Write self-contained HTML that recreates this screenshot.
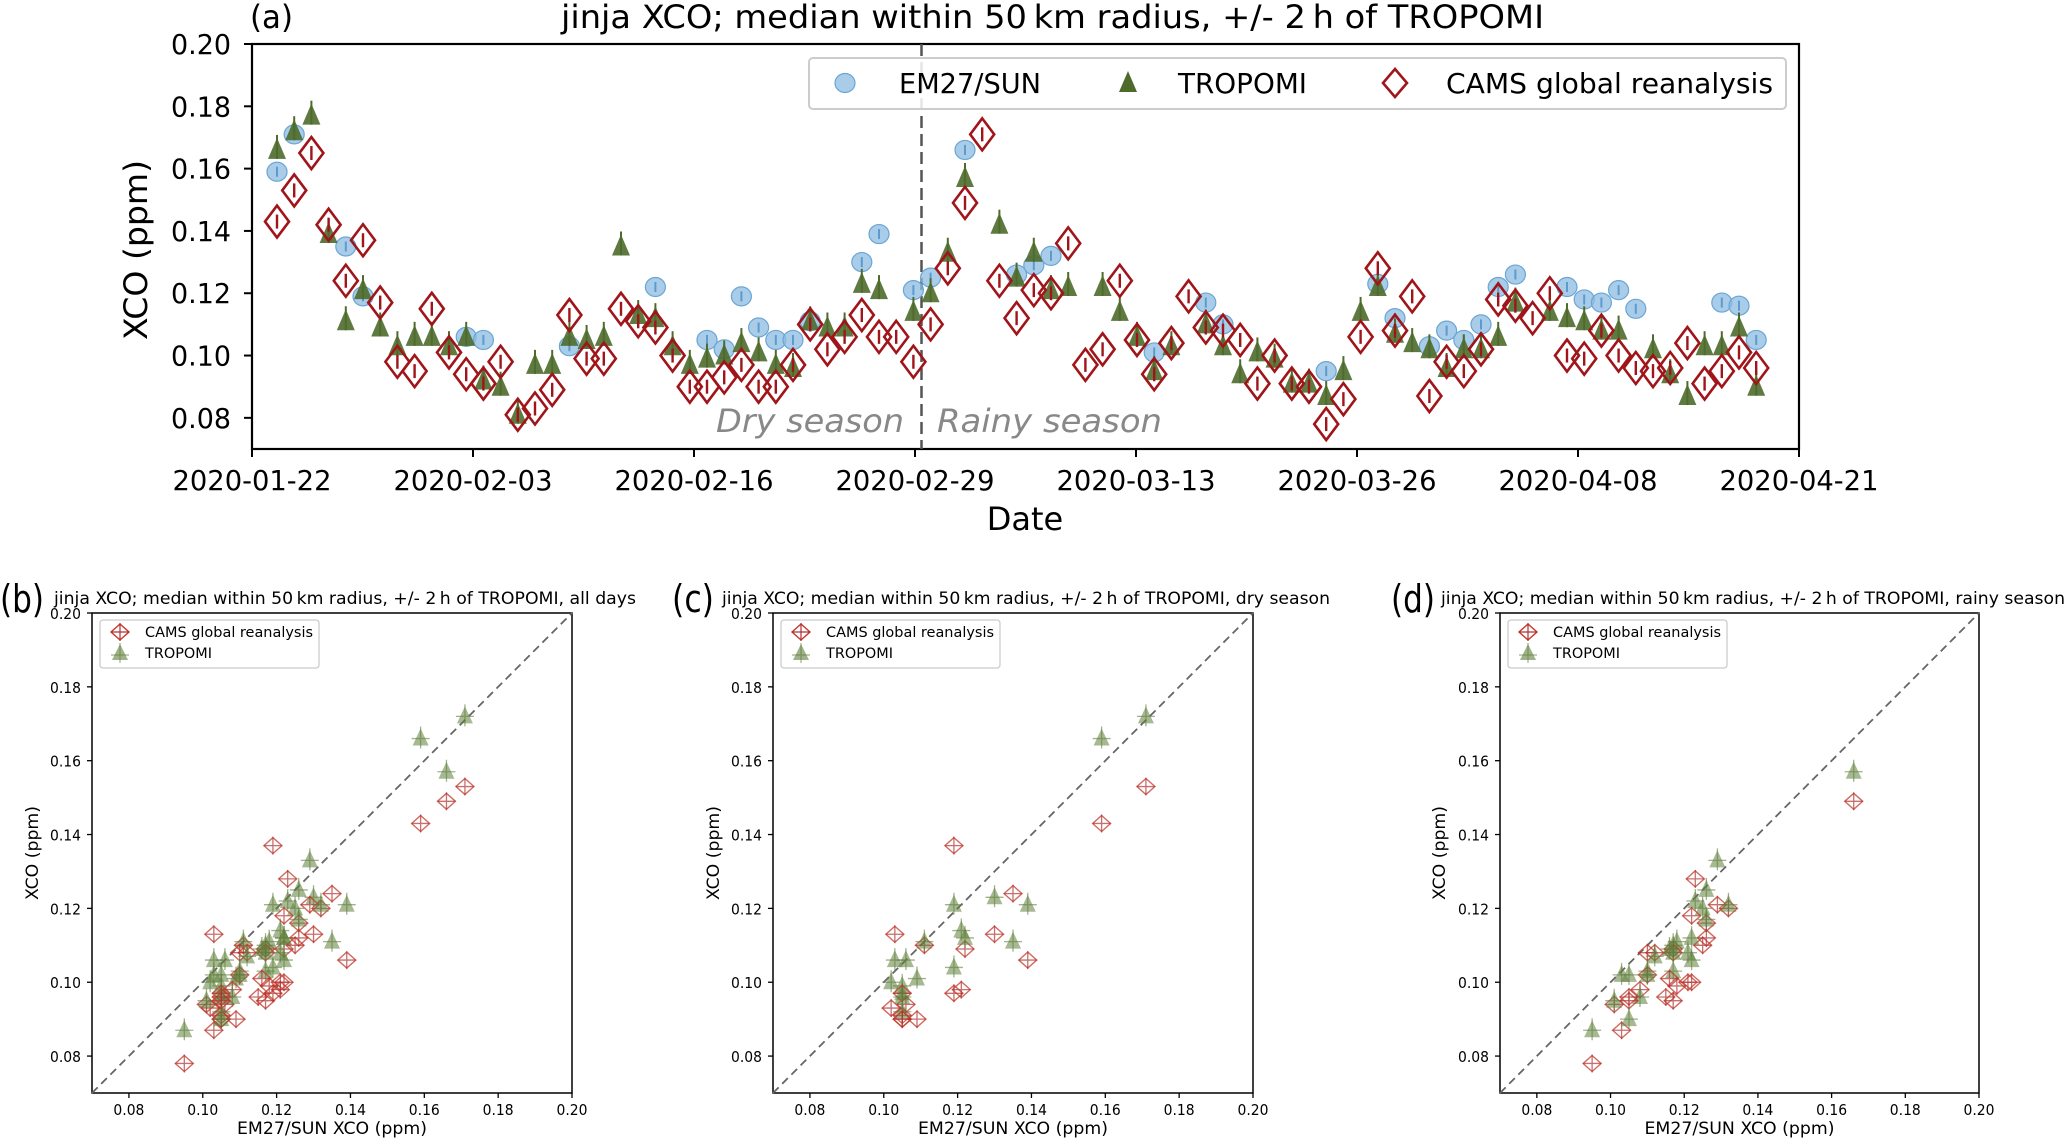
<!DOCTYPE html>
<html><head><meta charset="utf-8"><style>
html,body{margin:0;padding:0;background:#fff;}
svg{display:block;font-family:"DejaVu Sans","Liberation Sans",sans-serif;}
</style></head>
<body>
<svg id="fig" width="2067" height="1139" viewBox="0 0 2067 1139" xmlns="http://www.w3.org/2000/svg"></svg>
<script>
// ---- data (index = observation day, from 2020-01-23) ----
const emData = [0.159,0.171,null,null,0.135,0.119,null,null,null,null,null,0.106,0.105,null,null,null,null,0.103,null,null,null,null,0.122,null,null,0.105,0.102,0.119,0.109,0.105,0.105,0.111,null,null,0.130,0.139,null,0.121,0.125,null,0.166,null,null,0.126,0.129,0.132,null,null,null,null,null,0.101,null,null,0.117,0.110,null,null,null,null,null,0.095,null,null,0.123,0.112,null,0.103,0.108,0.105,0.110,0.122,0.126,null,null,0.122,0.118,0.117,0.121,0.115,null,null,null,null,0.117,0.116,0.105];
const tropomiData = [0.166,0.172,0.177,0.139,0.111,0.121,0.109,0.103,0.106,0.106,0.103,0.106,0.092,0.090,0.081,0.097,0.097,0.106,0.105,0.106,0.135,0.113,0.112,0.103,0.097,0.099,0.100,0.104,0.101,0.097,0.096,0.111,0.109,0.109,0.123,0.121,null,0.114,0.120,0.133,0.157,null,0.142,0.125,0.133,0.121,0.122,null,0.122,0.114,0.106,0.095,0.103,null,0.110,0.103,0.094,0.101,0.099,0.091,0.091,0.087,0.095,0.114,0.122,0.107,0.104,0.102,0.096,0.102,0.102,0.106,0.117,null,0.114,0.112,0.111,0.108,0.108,null,0.102,0.094,0.087,0.103,0.103,0.109,0.090];
const camsData = [0.143,0.153,0.165,0.142,0.124,0.137,0.117,0.098,0.095,0.115,0.101,0.094,0.091,0.098,0.081,0.083,0.089,0.113,0.099,0.099,0.115,0.111,0.109,0.100,0.090,0.090,0.093,0.097,0.090,0.090,0.097,0.110,0.102,0.106,0.113,0.106,0.106,0.098,0.110,0.128,0.149,0.171,0.124,0.112,0.121,0.120,0.136,0.097,0.102,0.124,0.105,0.094,0.104,0.119,0.109,0.108,0.105,0.091,0.100,0.091,0.090,0.078,0.086,0.106,0.128,0.108,0.119,0.087,0.098,0.095,0.102,0.118,0.116,0.112,0.120,0.100,0.099,0.108,0.100,0.096,0.095,0.096,0.104,0.091,0.095,0.101,0.096];
const dryLastIndex = 37;
const dateTickLabels = ["2020-01-22","2020-02-03","2020-02-16","2020-02-29","2020-03-13","2020-03-26","2020-04-08","2020-04-21"];
const dateTickDays = [0,13,26,39,52,65,78,91];
const yTicks = [0.08,0.10,0.12,0.14,0.16,0.18,0.20];
const scatterTicks = [0.08,0.10,0.12,0.14,0.16,0.18,0.20];

const NS="http://www.w3.org/2000/svg";
const svg=document.getElementById('fig');
function mk(tag,attrs,parent){const e=document.createElementNS(NS,tag);for(const k in attrs)e.setAttribute(k,attrs[k]);(parent||svg).appendChild(e);return e;}
function txt(s,attrs,parent){const e=mk('text',attrs,parent);e.textContent=s;return e;}

// ---- main time series panel ----
const A={L:252,R:1799,T:44,B:449,vmin:0.07,vmax:0.20};
const xDay=d=>A.L+d*17.0;
const xIdx=i=>277+i*17.2;
const yA=v=>A.B-(v-A.vmin)/(A.vmax-A.vmin)*(A.B-A.T);
const colEM='#8cbbe0', colEMs='#6aa6d6', colTR='#4e6b2b', colCA='#a0151a';

const pa=mk('g',{});


const fr=mk('rect',{x:A.L,y:A.T,width:A.R-A.L,height:A.B-A.T,fill:'none',stroke:'#000','stroke-width':2.2},pa);


yTicks.forEach(v=>{
  const y=yA(v);
  mk('line',{x1:A.L-8,x2:A.L,y1:y,y2:y,stroke:'#000','stroke-width':2},pa);
  const t=txt(v.toFixed(2),{x:231,y:y+10,'text-anchor':'end','font-size':28,textLength:60,lengthAdjust:'spacingAndGlyphs'},pa);
  
  
});
dateTickDays.forEach((d,k)=>{
  const x=xDay(d);
  mk('line',{x1:x,x2:x,y1:A.B,y2:A.B+8,stroke:'#000','stroke-width':2},pa);
  const t=txt(dateTickLabels[k],{x:x,y:490,'text-anchor':'middle','font-size':28,textLength:159,lengthAdjust:'spacingAndGlyphs'},pa);
  
  
});
const yl=txt('XCO (ppm)',{x:0,y:0,transform:'translate(147,250) rotate(-90)','text-anchor':'middle','font-size':32,textLength:180,lengthAdjust:'spacingAndGlyphs'},pa);


const xl=txt('Date',{x:1025,y:530,'text-anchor':'middle','font-size':32},pa);


const ta=txt('(a)',{x:250,y:28,'font-size':32,textLength:43,lengthAdjust:'spacingAndGlyphs'},pa);


const tt=txt('jinja XCO; median within 50\u2009km radius, +/- 2\u2009h of TROPOMI',{x:561,y:28,'font-size':32,textLength:983,lengthAdjust:'spacingAndGlyphs'},pa);


const sep=mk('line',{x1:921.5,x2:921.5,y1:A.T,y2:A.B,stroke:'#555','stroke-width':2.5,'stroke-dasharray':'12,6'},pa);


const ds=txt('Dry season',{x:716,y:432,'font-size':32,'font-style':'italic',fill:'#888',textLength:188,lengthAdjust:'spacingAndGlyphs'},pa);


const rs=txt('Rainy season',{x:937,y:432,'font-size':32,'font-style':'italic',fill:'#888',textLength:225,lengthAdjust:'spacingAndGlyphs'},pa);



const gEM=mk('g',{},pa);


const gTR=mk('g',{},pa);


const gCA=mk('g',{},pa);


emData.forEach((v,i)=>{ if(v==null)return;
  const c=mk('ellipse',{cx:xIdx(i),cy:yA(v),rx:10,ry:9.5,fill:colEM,'fill-opacity':0.75,stroke:colEMs,'stroke-width':1.2},gEM);
  
  
  mk('line',{x1:xIdx(i),x2:xIdx(i),y1:yA(v)-5,y2:yA(v)+5,stroke:'#5b9bd0','stroke-width':2},gEM);
});
tropomiData.forEach((v,i)=>{ if(v==null)return;
  const x=xIdx(i),y=yA(v);
  const p=mk('polygon',{points:`${x},${y-12} ${x-9},${y+9} ${x+9},${y+9}`,fill:colTR,'fill-opacity':0.9},gTR);
  
  
  mk('line',{x1:x,x2:x,y1:y-15,y2:y+9,stroke:colTR,'stroke-width':2},gTR);
});
camsData.forEach((v,i)=>{ if(v==null)return;
  const x=xIdx(i),y=yA(v);
  const p=mk('polygon',{points:`${x},${y-16} ${x+12},${y} ${x},${y+16} ${x-12},${y}`,fill:'none',stroke:colCA,'stroke-width':2.6},gCA);
  
  
  mk('line',{x1:x,x2:x,y1:y-7,y2:y+7,stroke:colCA,'stroke-width':2.4},gCA);
});
// legend
const lg=mk('g',{},pa);


mk('rect',{x:809,y:58,width:977,height:51,rx:4,fill:'#fff','fill-opacity':0.85,stroke:'#ccc','stroke-width':2},lg);
mk('ellipse',{cx:845,cy:83,rx:10,ry:9.5,fill:colEM,'fill-opacity':0.75,stroke:colEMs,'stroke-width':1.2},lg);
const l1=txt('EM27/SUN',{x:899,y:93,'font-size':28,textLength:142,lengthAdjust:'spacingAndGlyphs'},lg);


mk('polygon',{points:'1128,71 1119,92 1137,92',fill:colTR},lg);
const l2=txt('TROPOMI',{x:1178,y:93,'font-size':28,textLength:129,lengthAdjust:'spacingAndGlyphs'},lg);


mk('polygon',{points:'1395,69 1407,83 1395,97 1383,83',fill:'none',stroke:colCA,'stroke-width':2.6},lg);
const l3=txt('CAMS global reanalysis',{x:1446,y:93,'font-size':28,textLength:327,lengthAdjust:'spacingAndGlyphs'},lg);



// ---- scatter panels ----
const panels=[
 {L:92,R:572,label:'(b)',lx:0,lw:44,tx:54,tw:582,title:'jinja XCO; median within 50\u2009km radius, +/- 2\u2009h of TROPOMI, all days',ylx:38,filter:i=>true,name:'scatter-all-days'},
 {L:773,R:1253,label:'(c)',lx:672,lw:42,tx:722,tw:608,title:'jinja XCO; median within 50\u2009km radius, +/- 2\u2009h of TROPOMI, dry season',ylx:719,filter:i=>i<=dryLastIndex,name:'scatter-dry-season'},
 {L:1500,R:1979,label:'(d)',lx:1391,lw:44,tx:1441,tw:624,title:'jinja XCO; median within 50\u2009km radius, +/- 2\u2009h of TROPOMI, rainy season',ylx:1445,filter:i=>i>dryLastIndex,name:'scatter-rainy-season'}
];
const T=613,B=1093;
panels.forEach(P=>{
  const g=mk('g',{});
  
  
  const sx=v=>P.L+(v-0.07)/0.13*(P.R-P.L);
  const sy=v=>B-(v-0.07)/0.13*(B-T);
  mk('rect',{x:P.L,y:T,width:P.R-P.L,height:B-T,fill:'none',stroke:'#000','stroke-width':1.5},g);
  const one=mk('line',{x1:sx(0.07),y1:sy(0.07),x2:sx(0.20),y2:sy(0.20),stroke:'#666','stroke-width':1.8,'stroke-dasharray':'8,5'},g);
  
  
  scatterTicks.forEach(v=>{
    mk('line',{x1:P.L-5,x2:P.L,y1:sy(v),y2:sy(v),stroke:'#000','stroke-width':1.3},g);
    mk('line',{x1:sx(v),x2:sx(v),y1:B,y2:B+5,stroke:'#000','stroke-width':1.3},g);
    const a=txt(v.toFixed(2),{x:P.L-11,y:sy(v)+6,'text-anchor':'end','font-size':15,textLength:31,lengthAdjust:'spacingAndGlyphs'},g);
    
    
    const b=txt(v.toFixed(2),{x:sx(v),y:1115,'text-anchor':'middle','font-size':15,textLength:31,lengthAdjust:'spacingAndGlyphs'},g);
    
    
  });
  const xt=txt('EM27/SUN XCO (ppm)',{x:(P.L+P.R)/2,y:1134,'text-anchor':'middle','font-size':17,textLength:190,lengthAdjust:'spacingAndGlyphs'},g);
  
  
  const yt=txt('XCO (ppm)',{x:0,y:0,transform:`translate(${P.ylx},853) rotate(-90)`,'text-anchor':'middle','font-size':17,textLength:94,lengthAdjust:'spacingAndGlyphs'},g);
  
  
  const pl=txt(P.label,{x:P.lx,y:612,'font-size':38,textLength:P.lw,lengthAdjust:'spacingAndGlyphs'},g);
  
  
  const ptt=txt(P.title,{x:P.tx,y:604,'font-size':17,textLength:P.tw,lengthAdjust:'spacingAndGlyphs'},g);
  
  
  emData.forEach((e,i)=>{
    if(e==null||!P.filter(i))return;
    const x=sx(e);
    if(camsData[i]!=null){
      const y=sy(camsData[i]);
      const d=mk('polygon',{points:`${x},${y-8} ${x+9},${y} ${x},${y+8} ${x-9},${y}`,fill:'none',stroke:'#c0392b','stroke-opacity':0.75,'stroke-width':1.4},g);
      
      
      mk('path',{d:`M${x-9},${y}H${x+9}M${x},${y-9}V${y+9}`,stroke:'#b03030','stroke-opacity':0.7,'stroke-width':1.3},g);
    }
    if(tropomiData[i]!=null){
      const y=sy(tropomiData[i]);
      const t=mk('polygon',{points:`${x},${y-10} ${x-8},${y+7} ${x+8},${y+7}`,fill:'#5f7f3a','fill-opacity':0.55},g);
      
      
      mk('path',{d:`M${x-9},${y}H${x+9}M${x},${y-12}V${y+10}`,stroke:'#5f7f3a','stroke-opacity':0.6,'stroke-width':1.3},g);
    }
  });
  const lgd=mk('g',{},g);
  
  
  const bx=P.L+8;
  mk('rect',{x:bx,y:620,width:219,height:48,rx:3,fill:'#fff','fill-opacity':0.85,stroke:'#ccc','stroke-width':1.3},lgd);
  const mx=P.L+28;
  mk('polygon',{points:`${mx},624 ${mx+9},632 ${mx},640 ${mx-9},632`,fill:'none',stroke:'#c0392b','stroke-width':1.4},lgd);
  mk('path',{d:`M${mx-9},632H${mx+9}M${mx},623V641`,stroke:'#b03030','stroke-width':1.2},lgd);
  const e1=txt('CAMS global reanalysis',{x:P.L+53,y:637,'font-size':14,textLength:168,lengthAdjust:'spacingAndGlyphs'},lgd);
  
  
  mk('polygon',{points:`${mx},644 ${mx-8},660 ${mx+8},660`,fill:'#5f7f3a','fill-opacity':0.6},lgd);
  mk('path',{d:`M${mx-9},655H${mx+9}M${mx},643V663`,stroke:'#5f7f3a','stroke-opacity':0.6,'stroke-width':1.2},lgd);
  const e2=txt('TROPOMI',{x:P.L+53,y:658,'font-size':14,textLength:67,lengthAdjust:'spacingAndGlyphs'},lgd);
  
  
});
</script>
</body></html>
